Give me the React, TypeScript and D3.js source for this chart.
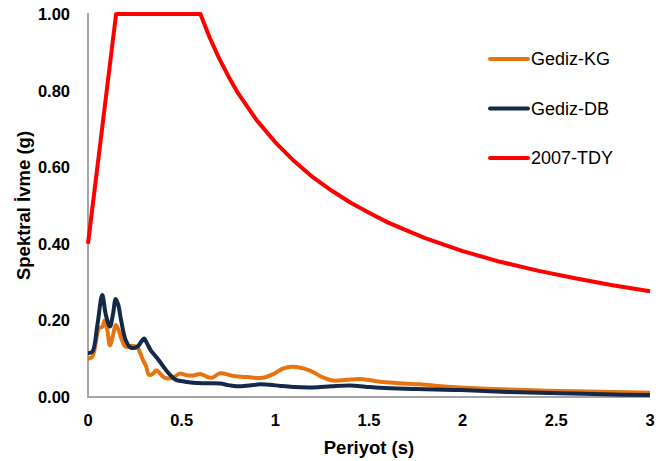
import React from 'react';
import * as d3 from 'd3';

// Periyot (s) and spektral ivme (g)
const periodKG = [0, 0.023, 0.059, 0.076, 0.089, 0.103, 0.117, 0.133, 0.148, 0.163, 0.18, 0.201, 0.237, 0.263, 0.29, 0.31, 0.325, 0.345, 0.365, 0.39, 0.41, 0.45, 0.49, 0.525, 0.56, 0.6, 0.625, 0.66, 0.705, 0.776, 0.85, 0.93, 0.99, 1.04, 1.09, 1.185, 1.25, 1.31, 1.38, 1.45, 1.53, 1.63, 1.77, 1.92, 2.1, 2.34, 2.6, 2.8, 3.0];
const gedizKG = [0.1, 0.105, 0.18, 0.183, 0.2, 0.175, 0.135, 0.16, 0.188, 0.175, 0.15, 0.131, 0.134, 0.13, 0.1, 0.08, 0.058, 0.06, 0.07, 0.058, 0.05, 0.05, 0.061, 0.057, 0.056, 0.06, 0.055, 0.05, 0.062, 0.055, 0.052, 0.05, 0.06, 0.074, 0.079, 0.069, 0.052, 0.043, 0.045, 0.047, 0.042, 0.037, 0.033, 0.027, 0.022, 0.018, 0.015, 0.013, 0.011];

const periodDB = [0, 0.023, 0.05, 0.076, 0.095, 0.117, 0.133, 0.148, 0.162, 0.175, 0.201, 0.228, 0.263, 0.285, 0.299, 0.315, 0.335, 0.36, 0.384, 0.42, 0.45, 0.473, 0.52, 0.562, 0.64, 0.705, 0.75, 0.794, 0.86, 0.918, 0.97, 1.025, 1.096, 1.2, 1.3, 1.4, 1.48, 1.56, 1.75, 1.99, 2.25, 2.52, 2.75, 3.0];
const gedizDB = [0.114, 0.118, 0.188, 0.266, 0.215, 0.184, 0.215, 0.256, 0.24, 0.205, 0.149, 0.129, 0.131, 0.145, 0.153, 0.14, 0.122, 0.107, 0.092, 0.068, 0.052, 0.044, 0.04, 0.037, 0.036, 0.035, 0.031, 0.028, 0.03, 0.033, 0.032, 0.029, 0.026, 0.025, 0.028, 0.03, 0.027, 0.024, 0.021, 0.018, 0.013, 0.01, 0.007, 0.005];

const periodTDY = [0, 0.15, 0.6, 0.65, 0.7, 0.75, 0.8, 0.9, 1.0, 1.1, 1.2, 1.3, 1.4, 1.5, 1.6, 1.7, 1.8, 1.9, 2.0, 2.2, 2.4, 2.6, 2.8, 3.0];
const tdy2007 = [0.4, 1.0, 1.0, 0.938, 0.884, 0.837, 0.794, 0.723, 0.665, 0.616, 0.574, 0.539, 0.508, 0.481, 0.456, 0.435, 0.415, 0.398, 0.381, 0.353, 0.33, 0.31, 0.292, 0.276];

const xTicks = [0, 0.5, 1, 1.5, 2, 2.5, 3];
const yTicks = [0, 0.2, 0.4, 0.6, 0.8, 1.0];
const seriesNames = ['Gediz-KG', 'Gediz-DB', '2007-TDY'];
const seriesColors = ['#E8740F', '#14294A', '#FF0000'];

const W = 669;
const H = 461;
const margin = { top: 14, right: 19, bottom: 64, left: 88 };
const font = '"Liberation Sans", Arial, sans-serif';

export default function App() {
  const x = d3.scaleLinear().domain([0, 3]).range([margin.left, W - margin.right]);
  const y = d3.scaleLinear().domain([0, 1]).range([H - margin.bottom, margin.top]);

  const smooth = d3
    .line<[number, number]>()
    .x((d) => x(d[0]))
    .y((d) => y(d[1]))
    .curve(d3.curveCatmullRom.alpha(0.5));
  const straight = d3
    .line<[number, number]>()
    .x((d) => x(d[0]))
    .y((d) => y(d[1]));

  const kg = periodKG.map((t, i) => [t, gedizKG[i]] as [number, number]);
  const db = periodDB.map((t, i) => [t, gedizDB[i]] as [number, number]);
  const tdy = periodTDY.map((t, i) => [t, tdy2007[i]] as [number, number]);
  const paths = [smooth(kg), smooth(db), straight(tdy)];

  const y0 = y(0);

  return (
    <svg
      width={W}
      height={H}
      style={{ position: 'absolute', left: 0, top: 0, background: '#fff' }}
      fontFamily={font}
    >
      {/* eksenler */}
      <line x1={x(0)} x2={x(0)} y1={margin.top - 1} y2={y0} stroke="#a6a6a6" strokeWidth={2} />
      <line x1={x(0) - 1} x2={x(3)} y1={y0} y2={y0} stroke="#a6a6a6" strokeWidth={2} />

      {yTicks.map((t) => (
        <text
          key={t}
          x={70}
          y={y(t)}
          textAnchor="end"
          dominantBaseline="central"
          fontSize={16.5}
          fontWeight="bold"
          fill="#000"
        >
          {t.toFixed(2)}
        </text>
      ))}
      {xTicks.map((t) => (
        <text
          key={t}
          x={x(t)}
          y={420}
          textAnchor="middle"
          dominantBaseline="central"
          fontSize={16.5}
          fontWeight="bold"
          fill="#000"
        >
          {t}
        </text>
      ))}

      <text x={x(1.5)} y={447} textAnchor="middle" dominantBaseline="central" fontSize={18.5} fontWeight="bold">
        Periyot (s)
      </text>
      <text
        transform={`translate(23,${(margin.top + y0) / 2}) rotate(-90)`}
        textAnchor="middle"
        dominantBaseline="central"
        fontSize={18.5}
        fontWeight="bold"
      >
        Spektral İvme (g)
      </text>

      {/* seriler */}
      {paths.map((p, i) => (
        <path
          key={i}
          d={p || ''}
          fill="none"
          stroke={seriesColors[i]}
          strokeWidth={4}
          strokeLinejoin="round"
          strokeLinecap="butt"
        />
      ))}

      {/* lejant */}
      {seriesNames.map((n, i) => (
        <g key={n} transform={`translate(490,${59 + i * 49.5})`}>
          <line x1={0} x2={38} y1={0} y2={0} stroke={seriesColors[i]} strokeWidth={4} strokeLinecap="round" />
          <text x={41} y={0} dominantBaseline="central" fontSize={18} fill="#000">
            {n}
          </text>
        </g>
      ))}
    </svg>
  );
}
